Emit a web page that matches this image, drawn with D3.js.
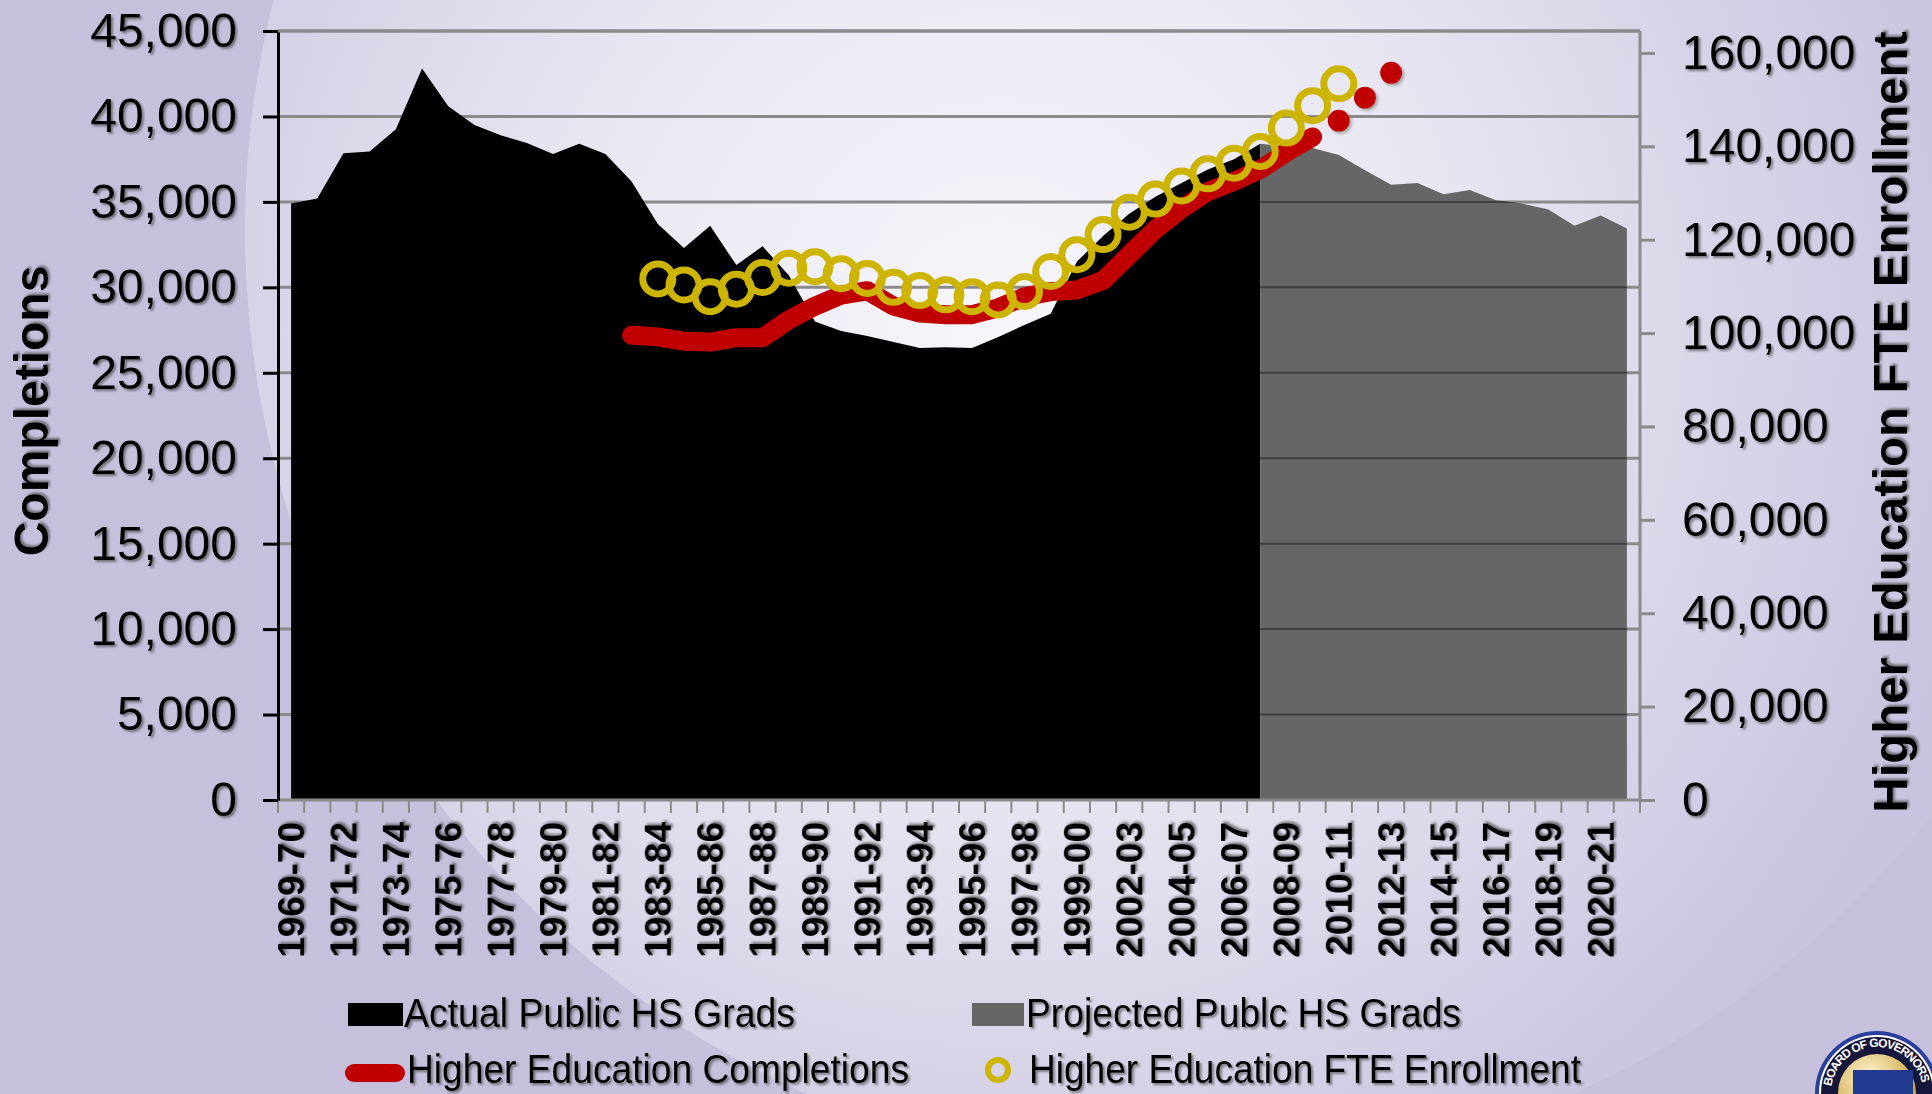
<!DOCTYPE html>
<html>
<head>
<meta charset="utf-8">
<script src="https://cdn.jsdelivr.net/npm/d3@7"></script>
<style>
  body { margin: 0; overflow: hidden; }
  text { font-family: "Liberation Sans", Arial, sans-serif; }
</style>
</head>
<body>
<svg id="chart" width="1932" height="1094"></svg>
<script>
// school years on the category axis (2001-02 is not in the source)
var years = ["1969-70","1970-71","1971-72","1972-73","1973-74","1974-75","1975-76","1976-77",
  "1977-78","1978-79","1979-80","1980-81","1981-82","1982-83","1983-84","1984-85","1985-86",
  "1986-87","1987-88","1988-89","1989-90","1990-91","1991-92","1992-93","1993-94","1994-95",
  "1995-96","1996-97","1997-98","1998-99","1999-00","2000-01","2002-03","2003-04","2004-05",
  "2005-06","2006-07","2007-08","2008-09","2009-10","2010-11","2011-12","2012-13","2013-14",
  "2014-15","2015-16","2016-17","2017-18","2018-19","2019-20","2020-21","2021-22"];

// actual public HS grads, 1969-70 .. 2007-08
var actualGrads = [34900,35200,37850,37950,39250,42800,40600,39500,38900,38450,37800,38400,
  37800,36200,33700,32300,33600,31300,32400,30700,28000,27450,27150,26800,26450,26500,26450,
  27100,27800,28450,31500,33000,34300,35300,36100,36900,37500,38400];

// projected public HS grads, 2007-08 .. 2021-22
var projectedGrads = [38400,38250,38150,37750,36850,36000,36100,35450,35700,35100,34900,
  34550,33600,34200,33450];

// higher education completions, 1982-83 .. 2009-10
var completions = [27200,27100,26850,26800,27050,27050,28100,28900,29550,29800,28900,28500,
  28400,28400,28800,29450,29750,29850,30400,31900,33400,34600,35600,36200,36900,37900,38800];
// later completions, shown as dots only (2010-11 .. 2012-13)
var completionsLater = [39750,41100,42550];

// higher education FTE enrollment (right axis), 1983-84 .. 2010-11
var fteEnrollment = [111600,110300,107800,109400,111900,113900,114200,112700,111700,109800,
  109100,108200,107800,107100,108900,113200,116800,121100,125900,128700,131500,134100,136400,
  138900,143900,148700,153400];

var leftTicks = d3.range(0, 45001, 5000);
var rightTicks = d3.range(0, 160001, 20000);

var svg = d3.select("#chart");
var defs = svg.append("defs");

// ---- background ----
var bgGrad = defs.append("radialGradient").attr("id", "bgGrad")
  .attr("gradientUnits", "userSpaceOnUse")
  .attr("cx", 1000).attr("cy", 330).attr("r", 1000);
bgGrad.append("stop").attr("offset", 0).attr("stop-color", "#f7f6fb");
bgGrad.append("stop").attr("offset", 0.45).attr("stop-color", "#e8e6f1");
bgGrad.append("stop").attr("offset", 1).attr("stop-color", "#c9c3df");

svg.append("rect").attr("width", 1932).attr("height", 1094).attr("fill", "#c6c0dc");
svg.append("circle").attr("cx", 1190).attr("cy", 230).attr("r", 945).attr("fill", "url(#bgGrad)");

var shadow = defs.append("filter").attr("id", "txtShadow")
  .attr("x", "-10%").attr("y", "-10%").attr("width", "120%").attr("height", "130%");
shadow.append("feDropShadow").attr("dx", 2).attr("dy", 2).attr("stdDeviation", 0.8)
  .attr("flood-color", "#444").attr("flood-opacity", 0.65);

var dotShadow = defs.append("filter").attr("id", "dotShadow")
  .attr("x", "-50%").attr("y", "-50%").attr("width", "200%").attr("height", "200%");
dotShadow.append("feDropShadow").attr("dx", 2).attr("dy", 2).attr("stdDeviation", 1.5)
  .attr("flood-color", "#777").attr("flood-opacity", 0.6);

// ---- scales ----
var plotL = 278, plotR = 1640, plotT = 31, plotB = 800;

var x = d3.scaleBand().domain(years).range([plotL, plotR]);
var cx = function(d) { return x(d.year) + x.bandwidth() / 2; };
var yL = d3.scaleLinear().domain([0, 45000]).range([plotB, plotT]);
var yR = d3.scaleLinear().domain([0, 164700]).range([plotB, plotT]);

function series(values, start) {
  return values.map(function(v, i) { return { year: years[start + i], v: v }; });
}
var actualData = series(actualGrads, 0);
var projData = series(projectedGrads, 37);
var complData = series(completions, 13);
var complLaterData = series(completionsLater, 40);
var fteData = series(fteEnrollment, 14);

// gridlines
svg.append("g").selectAll("line")
  .data(leftTicks.filter(function(d) { return d > 0; }))
  .join("line")
  .attr("x1", plotL).attr("x2", plotR)
  .attr("y1", d => yL(d)).attr("y2", d => yL(d))
  .attr("stroke", "#8a8a8a").attr("stroke-width", 3);

// areas
var area = d3.area().x(cx).y0(plotB).y1(d => yL(d.v));

svg.append("path").datum(actualData).attr("d", area).attr("fill", "#000");
svg.append("path").datum(projData).attr("d", area).attr("fill", "#666666");

defs.append("clipPath").attr("id", "projClip")
  .append("path").datum(projData).attr("d", area);

svg.append("g").attr("clip-path", "url(#projClip)").selectAll("line")
  .data(leftTicks.filter(function(d) { return d > 0; }))
  .join("line")
  .attr("x1", plotL).attr("x2", plotR)
  .attr("y1", d => yL(d)).attr("y2", d => yL(d))
  .attr("stroke", "#3e3e3e").attr("stroke-width", 2);

// ---- axes ----
// category tick marks sit between categories
var bounds = years.map(d => x(d)).concat([plotR]);
svg.append("g").selectAll("line").data(bounds).join("line")
  .attr("x1", d => d).attr("x2", d => d)
  .attr("y1", plotB).attr("y2", plotB + 13)
  .attr("stroke", "#8a8a8a").attr("stroke-width", 2);
svg.append("line").attr("x1", plotL).attr("x2", plotR)
  .attr("y1", plotB).attr("y2", plotB)
  .attr("stroke", "#8a8a8a").attr("stroke-width", 3);

var xAxis = svg.append("g").attr("transform", "translate(0," + plotB + ")")
  .call(d3.axisBottom(x).tickSize(0)
    .tickFormat(function(d, i) { return i % 2 === 0 ? d : ""; }));
xAxis.select(".domain").remove();
xAxis.selectAll("text")
  .attr("transform", "rotate(-90)")
  .attr("x", -22).attr("y", 0).attr("dy", "0.36em")
  .style("text-anchor", "end")
  .attr("font-size", 37).attr("font-weight", "bold")
  .attr("font-family", "'Liberation Sans', Arial, sans-serif")
  .attr("fill", "#000").attr("filter", "url(#txtShadow)");

var yAxisL = svg.append("g").attr("transform", "translate(" + plotL + ",0)")
  .call(d3.axisLeft(yL).tickValues(leftTicks).tickSize(15).tickSizeOuter(0)
    .tickPadding(26).tickFormat(d3.format(",")));
yAxisL.select(".domain").attr("stroke", "#000").attr("stroke-width", 3);
yAxisL.selectAll(".tick line").attr("stroke", "#000").attr("stroke-width", 3);
yAxisL.selectAll("text").attr("font-size", 48)
  .attr("font-family", "'Liberation Sans', Arial, sans-serif")
  .attr("fill", "#000").attr("filter", "url(#txtShadow)");

var yAxisR = svg.append("g").attr("transform", "translate(" + plotR + ",0)")
  .call(d3.axisRight(yR).tickValues(rightTicks).tickSize(15).tickSizeOuter(0)
    .tickPadding(27).tickFormat(d3.format(",")));
yAxisR.select(".domain").attr("stroke", "#8a8a8a").attr("stroke-width", 3)
  .attr("d", "M0," + plotT + "V" + plotB);
yAxisR.selectAll(".tick line").attr("stroke", "#8a8a8a").attr("stroke-width", 3);
yAxisR.selectAll("text").attr("font-size", 48)
  .attr("font-family", "'Liberation Sans', Arial, sans-serif")
  .attr("fill", "#000").attr("filter", "url(#txtShadow)");

// top border gridline
svg.append("line").attr("x1", plotL).attr("x2", plotR)
  .attr("y1", yL(45000)).attr("y2", yL(45000))
  .attr("stroke", "#8a8a8a").attr("stroke-width", 3);

// axis titles
svg.append("text")
  .attr("transform", "translate(48,411) rotate(-90)")
  .attr("text-anchor", "middle")
  .attr("font-size", 48).attr("font-weight", "bold")
  .attr("filter", "url(#txtShadow)")
  .text("Completions");

svg.append("text")
  .attr("transform", "translate(1907,422) rotate(-90)")
  .attr("text-anchor", "middle")
  .attr("font-size", 49).attr("font-weight", "bold")
  .attr("filter", "url(#txtShadow)")
  .text("Higher Education FTE Enrollment");

// ---- completions line and dots ----
var line = d3.line().x(cx).y(d => yL(d.v));
svg.append("path").datum(complData).attr("d", line)
  .attr("fill", "none").attr("stroke", "#c00000").attr("stroke-width", 19)
  .attr("stroke-linecap", "round").attr("stroke-linejoin", "round");

svg.append("g").selectAll("circle").data(complLaterData).join("circle")
  .attr("cx", cx).attr("cy", d => yL(d.v)).attr("r", 11)
  .attr("fill", "#c00000").attr("filter", "url(#dotShadow)");

// ---- FTE enrollment markers ----
svg.append("g").selectAll("circle").data(fteData).join("circle")
  .attr("cx", cx).attr("cy", d => yR(d.v)).attr("r", 15)
  .attr("fill", "none").attr("stroke", "#cdb400").attr("stroke-width", 7);

// ---- legend ----
var legend = svg.append("g");
legend.append("rect").attr("x", 348).attr("y", 1003).attr("width", 55).attr("height", 23)
  .attr("fill", "#000");
legend.append("rect").attr("x", 972).attr("y", 1003).attr("width", 52).attr("height", 23)
  .attr("fill", "#666666");
legend.append("line").attr("x1", 354).attr("x2", 396).attr("y1", 1073).attr("y2", 1073)
  .attr("stroke", "#c00000").attr("stroke-width", 18).attr("stroke-linecap", "round");
legend.append("circle").attr("cx", 998).attr("cy", 1070).attr("r", 10)
  .attr("fill", "none").attr("stroke", "#cdb400").attr("stroke-width", 6);

var legendItems = [
  { label: "Actual Public HS Grads", x: 404, y: 1027, w: 391 },
  { label: "Projected Publc HS Grads", x: 1026, y: 1027, w: 435 },
  { label: "Higher Education Completions", x: 407, y: 1083, w: 502 },
  { label: "Higher Education FTE Enrollment", x: 1029, y: 1083, w: 552 }
];
legend.selectAll("text.lbl").data(legendItems).join("text")
  .attr("class", "lbl")
  .attr("x", d => d.x).attr("y", d => d.y)
  .attr("font-size", 40)
  .attr("textLength", d => d.w).attr("lengthAdjust", "spacingAndGlyphs")
  .attr("filter", "url(#txtShadow)")
  .text(d => d.label);

// ---- seal in the corner ----
var gold = defs.append("radialGradient").attr("id", "goldGrad")
  .attr("cx", "40%").attr("cy", "30%").attr("r", "70%");
gold.append("stop").attr("offset", 0).attr("stop-color", "#fdf6d8");
gold.append("stop").attr("offset", 1).attr("stop-color", "#c99a2a");

var seal = svg.append("g").attr("transform", "translate(1877,1093)");
seal.append("circle").attr("r", 62).attr("fill", "#2a3f9c");
seal.append("circle").attr("r", 58).attr("fill", "#ffffff");
seal.append("circle").attr("r", 56).attr("fill", "#16163a");
seal.append("circle").attr("r", 39).attr("fill", "url(#goldGrad)");
seal.append("rect").attr("x", -24).attr("y", -23).attr("width", 60).attr("height", 50)
  .attr("fill", "#1f3a8f");
var arcR = 46;
var a0 = -172 * Math.PI / 180, a1 = -8 * Math.PI / 180;
defs.append("path").attr("id", "sealArc")
  .attr("d", "M" + (1877 + arcR * Math.cos(a0)) + "," + (1093 + arcR * Math.sin(a0)) +
    " A" + arcR + "," + arcR + " 0 0 1 " + (1877 + arcR * Math.cos(a1)) + "," + (1093 + arcR * Math.sin(a1)));
svg.append("text").attr("font-size", 12).attr("font-weight", "bold").attr("fill", "#fff")
  .append("textPath").attr("href", "#sealArc")
  .attr("textLength", 128).attr("lengthAdjust", "spacing")
  .text("BOARD OF GOVERNORS");
</script>
</body>
</html>
